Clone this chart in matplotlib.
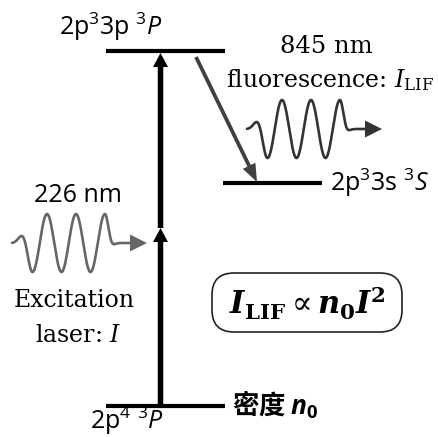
import numpy as np
import matplotlib.pyplot as plt
from matplotlib.patches import FancyBboxPatch

plt.rcParams['mathtext.fontset'] = 'custom'
plt.rcParams['mathtext.rm'] = 'Open Sans'
plt.rcParams['mathtext.it'] = 'Open Sans:italic'
plt.rcParams['mathtext.bf'] = 'Open Sans:bold'
plt.rcParams['mathtext.bfit'] = 'Open Sans:italic:bold'

SANS = ['Open Sans', 'Noto Sans', 'DejaVu Sans']
SERIF = ['DejaVu Serif']
CJK = ['Noto Sans CJK SC', 'DejaVu Sans']

# energy levels: (x start, x end, y)
levels = {
    'ground': (106, 225, 406),
    'upper': (106, 225, 51),
    'middle': (223, 322, 183),
}
level_labels = {
    'upper': r'2p$^3$3p $^3\mathit{P}$',
    'middle': r'2p$^3$3s $^3\mathit{S}$',
    'ground': r'2p$^4$ $^3\mathit{P}$',
}
excitation_wl = '226 nm'
fluorescence_wl = '845 nm'


def wave(ax, x0, yc, color):
    # wave packet with three crests that bends into an arrow
    t = np.linspace(0, 118, 600)
    env = np.ones_like(t)
    env[t < 20] = np.exp(-((t[t < 20] - 20) / 10) ** 2)
    env[t > 93] = np.exp(-((t[t > 93] - 93) / 6) ** 2)
    y = yc - 29 * env * np.cos(2 * np.pi * (t - 35) / 29)
    ax.plot(x0 + t, y, color=color, lw=1.9, solid_capstyle='round')
    ax.arrow(x0 + 118, yc, 17, 0, width=0, head_width=17, head_length=17,
             length_includes_head=True, color=color, lw=0)


fig = plt.figure(figsize=(4.39, 4.37), dpi=100)
ax = fig.add_axes([0, 0, 1, 1])
ax.set_xlim(0, 439)
ax.set_ylim(437, 0)
ax.axis('off')

for key, (xa, xb, y) in levels.items():
    ax.plot([xa, xb], [y, y], color='black', lw=3, solid_capstyle='butt')

# two-photon excitation: two stacked arrows
x_exc = 160.5
y_mid = 228
ax.arrow(x_exc, levels['ground'][2], 0, y_mid - levels['ground'][2], width=5.5,
         head_width=15, head_length=14, length_includes_head=True,
         color='black', lw=0)
ax.arrow(x_exc, y_mid, 0, levels['upper'][2] + 2 - y_mid, width=5.5,
         head_width=15, head_length=14, length_includes_head=True,
         color='black', lw=0)

# fluorescence decay
ax.arrow(196, 57, 61, 125, width=3.8, head_width=14, head_length=18,
         length_includes_head=True, color='#404040', lw=0)

wave(ax, 12, 243, '#666666')
wave(ax, 247, 129, '#333333')

ax.text(111, 35, level_labels['upper'], family=SANS, fontsize=18,
        ha='center', va='baseline')
ax.text(330, 191, level_labels['middle'], family=SANS, fontsize=18,
        ha='left', va='baseline')
ax.text(127, 429, level_labels['ground'], family=SANS, fontsize=18,
        ha='center', va='baseline')

ax.text(78, 202, excitation_wl, family=SANS, fontsize=18,
        ha='center', va='baseline')
ax.text(74, 307, 'Excitation', family=SERIF, fontsize=17,
        ha='center', va='baseline')
ax.text(78, 342, r'laser: $I$', family=SERIF, fontsize=17,
        ha='center', va='baseline', math_fontfamily='dejavuserif')

ax.text(326, 53, fluorescence_wl, family=SERIF, fontsize=17.5,
        ha='center', va='baseline')
ax.text(330, 87, r'fluorescence: $I_\mathrm{LIF}$', family=SERIF,
        fontsize=17, ha='center', va='baseline', math_fontfamily='dejavuserif')

ax.text(232, 405, r'密度 $\mathbfit{n}_\mathbf{0}$', family=CJK,
        fontweight='bold', fontsize=19, ha='left', va='center')

box = FancyBboxPatch((212, 273), 190, 59,
                     boxstyle='round,pad=0,rounding_size=22',
                     facecolor='white', edgecolor='#222222', lw=1.2)
ax.add_patch(box)
ax.text(307, 303,
        r'$\mathbfit{I}_\mathbf{LIF} \propto \mathbfit{n}_\mathbf{0}\mathbfit{I}^\mathbf{2}$',
        fontsize=22, ha='center', va='center', math_fontfamily='dejavuserif')

fig.savefig('out.png', dpi=100)
